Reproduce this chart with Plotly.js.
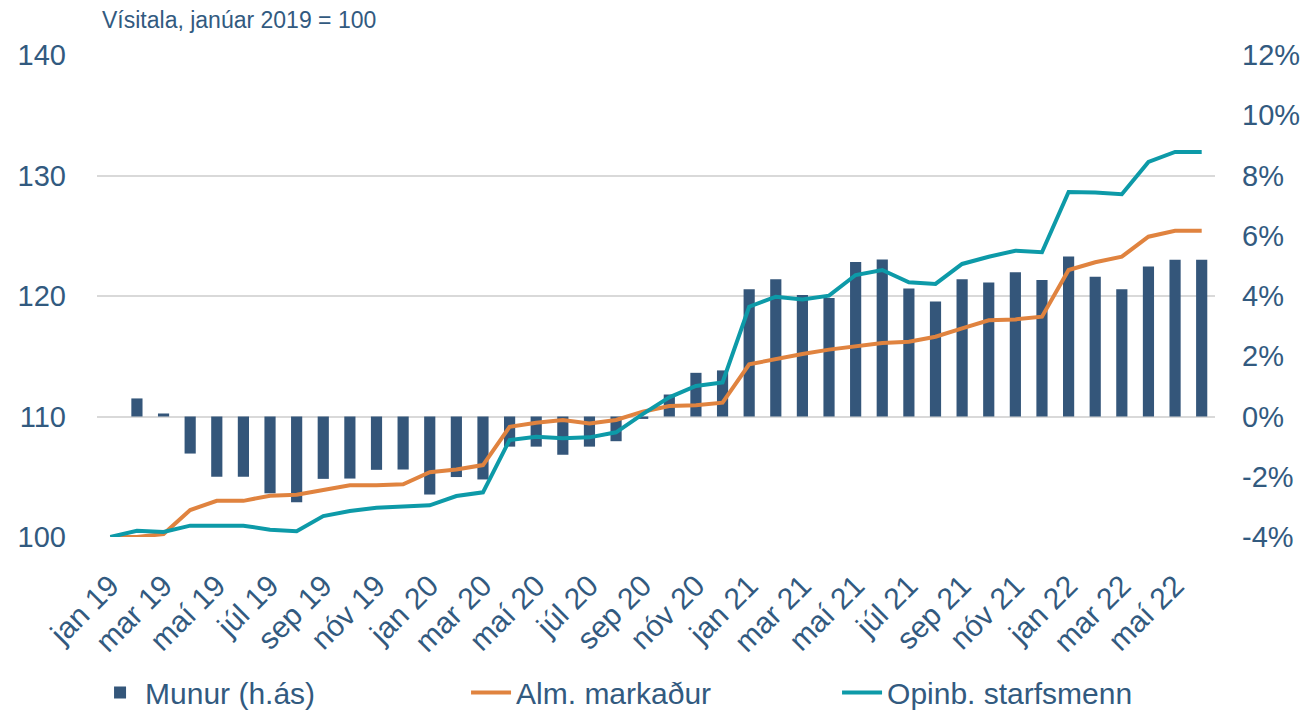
<!DOCTYPE html>
<html>
<head>
<meta charset="utf-8">
<script src="https://cdn.plot.ly/plotly-3.0.1.min.js"></script>
<style>
  html, body { margin: 0; padding: 0; background: #ffffff; }
  #chart { width: 1311px; height: 711px; }
</style>
</head>
<body>
<div id="chart"></div>
<script>
// Months jan 19 .. jún 22
const months = [
  "jan 19","feb 19","mar 19","apr 19","maí 19","jún 19","júl 19","ágú 19","sep 19","okt 19","nóv 19","des 19",
  "jan 20","feb 20","mar 20","apr 20","maí 20","jún 20","júl 20","ágú 20","sep 20","okt 20","nóv 20","des 20",
  "jan 21","feb 21","mar 21","apr 21","maí 21","jún 21","júl 21","ágú 21","sep 21","okt 21","nóv 21","des 21",
  "jan 22","feb 22","mar 22","apr 22","maí 22","jún 22"
];
const tickLabels = [
  "jan 19","mar 19","maí 19","júl 19","sep 19","nóv 19",
  "jan 20","mar 20","maí 20","júl 20","sep 20","nóv 20",
  "jan 21","mar 21","maí 21","júl 21","sep 21","nóv 21",
  "jan 22","mar 22","maí 22"
];
// Munur (h.ás), percent
const munur = [
  0.0, 0.6, 0.1, -1.23, -2.0, -2.0, -2.55, -2.85, -2.07, -2.06, -1.77, -1.76,
  -2.59, -2.01, -2.09, -1.0, -1.0, -1.27, -1.0, -0.82, -0.08, 0.73, 1.45, 1.53,
  4.22, 4.56, 4.03, 3.93, 5.13, 5.21, 4.25, 3.82, 4.56, 4.45, 4.79, 4.53,
  5.31, 4.64, 4.22, 4.98, 5.2, 5.2
];
// Alm. markaður, index
const alm = [
  100.0, 100.0, 100.25, 102.24, 103.0, 103.0, 103.43, 103.5, 103.9, 104.29, 104.29, 104.37,
  105.37, 105.6, 105.97, 109.15, 109.49, 109.71, 109.43, 109.71, 110.4, 110.87, 110.93, 111.15,
  114.33, 114.8, 115.19, 115.55, 115.82, 116.1, 116.21, 116.62, 117.32, 117.98, 118.06, 118.28,
  122.16, 122.8, 123.26, 124.92, 125.42, 125.42
];
// Opinb. starfsmenn, index
const opinb = [
  100.0, 100.52, 100.41, 100.94, 100.94, 100.94, 100.61, 100.47, 101.74, 102.16, 102.43, 102.55,
  102.63, 103.4, 103.71, 108.05, 108.32, 108.19, 108.27, 108.69, 110.2, 111.59, 112.53, 112.82,
  119.11, 119.94, 119.72, 120.03, 121.74, 122.16, 121.14, 121.0, 122.66, 123.26, 123.76, 123.63,
  128.63, 128.58, 128.44, 131.12, 131.95, 131.95
];
const leftTicks = [100, 110, 120, 130, 140];
const rightTicks = [-4, -2, 0, 2, 4, 6, 8, 10, 12];

const textColor = "#325a7f";
const font = "Liberation Sans, Arial, sans-serif";

const traces = [
  {
    type: "bar", name: "Munur (h.ás)", x: months, y: munur, yaxis: "y",
    marker: { color: "#34567a" }, width: 0.42
  },
  {
    type: "scatter", mode: "lines", name: "Alm. markaður", x: months, y: alm, yaxis: "y2",
    line: { color: "#e0833f", width: 4 }
  },
  {
    type: "scatter", mode: "lines", name: "Opinb. starfsmenn", x: months, y: opinb, yaxis: "y2",
    line: { color: "#0d9aa8", width: 4 }
  }
];

const layout = {
  width: 1311, height: 711,
  margin: { l: 97, r: 96, t: 55, b: 174 },
  paper_bgcolor: "#ffffff", plot_bgcolor: "#ffffff",
  font: { family: font, color: textColor, size: 24 },
  showlegend: true,
  legend: {
    orientation: "h", xref: "container", x: 0.0725, xanchor: "left",
    yref: "container", y: 0.026, yanchor: "middle",
    font: { size: 30, color: textColor, family: font },
    entrywidth: 316, entrywidthmode: "pixels",
    traceorder: "normal", itemwidth: 40
  },
  xaxis: {
    type: "category", categoryorder: "array", categoryarray: months,
    tickmode: "array", tickvals: tickLabels, ticktext: tickLabels,
    tickangle: -45, tickfont: { size: 30, color: textColor },
    showgrid: false, zeroline: false, showline: false, ticks: "",
    ticklabelstandoff: 24, automargin: false
  },
  yaxis: {
    side: "right", range: [-4, 12], tickvals: rightTicks,
    ticktext: rightTicks.map(v => v + "%"),
    showgrid: false, zeroline: false, showline: false, ticks: "",
    tickfont: { size: 29, color: textColor },
    ticklabelstandoff: 26, automargin: false
  },
  yaxis2: {
    side: "left", overlaying: "y", range: [100, 140], tickvals: leftTicks,
    showgrid: true, gridcolor: "#d9d9d9", gridwidth: 2,
    zeroline: false, showline: false, ticks: "",
    tickfont: { size: 29, color: textColor },
    ticklabelstandoff: 30, automargin: false
  },
  annotations: [
    {
      text: "Vísitala, janúar 2019 = 100", xref: "paper", yref: "paper",
      x: 0.003, y: 1.0726, xanchor: "left", yanchor: "middle", showarrow: false,
      font: { size: 23, color: textColor, family: font }
    }
  ]
};

Plotly.newPlot("chart", traces, layout, { displayModeBar: false, staticPlot: true });
</script>
</body>
</html>
